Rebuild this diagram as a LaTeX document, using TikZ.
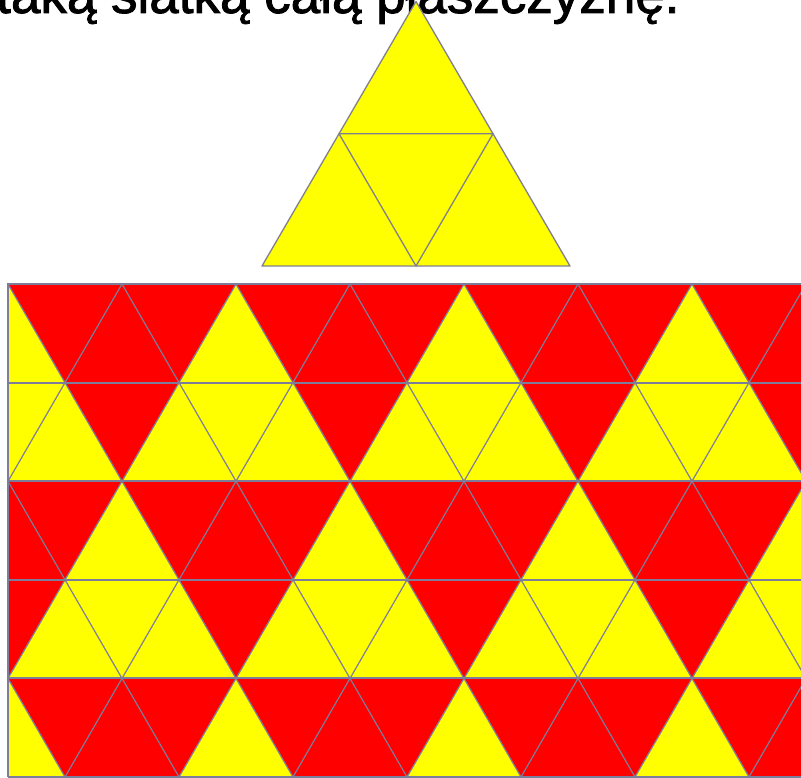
\documentclass[tikz,border=0pt]{standalone}
\usepackage{fontspec}
\setmainfont{Liberation Sans}
\newfontfamily\headfont{Liberation Sans}[FakeBold=1.6]
\usetikzlibrary{calc}
\definecolor{gridline}{RGB}{125,125,155}
\definecolor{triline}{RGB}{128,128,140}
\definecolor{myred}{RGB}{255,0,0}
\definecolor{myyellow}{RGB}{255,255,0}
\tikzset{
  diag/.style={gridline, line width=1.2pt},
  horiz/.style={gridline, line width=2pt},
  triedge/.style={triline, line width=1.3pt, line join=round}
}
\begin{document}
\begin{tikzpicture}[x=1pt,y=-1pt]
\useasboundingbox (0,0) rectangle (801,778);
\node[anchor=base west, inner sep=0, font=\headfont\fontsize{53}{60}\selectfont] (txt) at (-4,13) {taką siatką całą płaszczyznę.};

\def\h{98.6}
\begin{scope}
\clip (8,284) rectangle (801,778);
\foreach \r/\c in {0/myred,1/myyellow,2/myred,3/myyellow,4/myred}{
  \fill[\c] (0,{284+\r*\h}) rectangle (810,{284+(\r+1)*\h});
}
\foreach \r/\p in {0/0,2/1,4/0}{
  \foreach \k in {0,...,4}{
    \pgfmathsetmacro\ax{8+114*(2*\k+\p)}
    \fill[myyellow] (\ax,{284+\r*\h}) -- ({\ax-57},{284+(\r+1)*\h}) -- ({\ax+57},{284+(\r+1)*\h}) -- cycle;
  }
}
\foreach \r/\p in {1/1,3/0}{
  \foreach \k in {0,...,4}{
    \pgfmathsetmacro\ax{8+114*(2*\k+\p)}
    \fill[myred] (\ax,{284+(\r+1)*\h}) -- ({\ax-57},{284+\r*\h}) -- ({\ax+57},{284+\r*\h}) -- cycle;
  }
}
\foreach \k in {-3,...,10}{
  \draw[diag] ({8+114*\k},284) -- ({8+114*\k+285},{284+5*\h});
  \draw[diag] ({8+114*\k},284) -- ({8+114*\k-285},{284+5*\h});
}
\foreach \r in {1,...,4}{
  \draw[horiz] (8,{284+\r*\h}) -- (801,{284+\r*\h});
}
\end{scope}
\draw[horiz] (8,777) -- (8,284) -- (801,284);
\draw[horiz] (8,777) -- (801,777);

\coordinate (A) at (416,1.5);
\coordinate (B) at (262,266);
\coordinate (C) at (570,266);
\coordinate (AB) at ($(A)!0.5!(B)$);
\coordinate (AC) at ($(A)!0.5!(C)$);
\coordinate (BC) at ($(B)!0.5!(C)$);
\fill[myyellow] (A) -- (B) -- (C) -- cycle;
\draw[triedge] (A) -- (B) -- (C) -- cycle;
\draw[triedge] (AB) -- (AC) -- (BC) -- cycle;
\end{tikzpicture}
\end{document}
